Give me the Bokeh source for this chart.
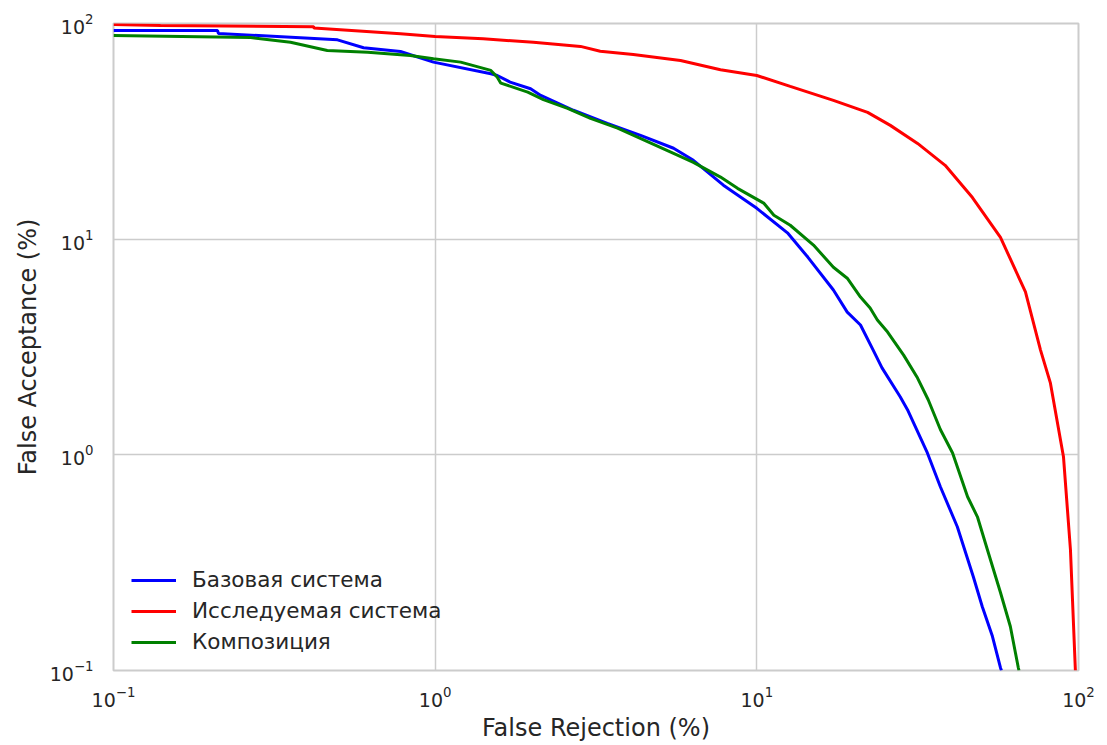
from bokeh.plotting import figure
from bokeh.models import Legend, LegendItem
from bokeh.embed import file_html
from bokeh.resources import INLINE

# DET curves: false rejection (%) vs false acceptance (%)
base_fr = [0.1, 0.2105, 0.212, 0.497, 0.599, 0.780, 0.988, 1.49, 1.56, 1.71, 1.98, 2.13,
           2.69, 3.43, 4.35, 5.51, 6.35, 7.87, 10.0, 12.45, 14.4, 17.3, 19.1, 21.0, 23.0,
           24.5, 27.9, 29.4, 33.9, 37.2, 42.0, 47.1, 50.2, 54.0, 57.2, 57.6]
base_fa = [92.8, 92.8, 89.9, 84.0, 77.2, 74.2, 66.2, 58.5, 57.4, 53.5, 49.8, 46.4,
           39.6, 34.4, 30.3, 26.4, 23.2, 17.8, 13.9, 10.7, 8.26, 5.81, 4.59, 4.00, 3.06,
           2.53, 1.86, 1.62, 1.02, 0.711, 0.464, 0.272, 0.198, 0.144, 0.103, 0.1]

test_fr = [0.1, 0.140, 0.419, 0.420, 0.780, 1.0, 1.41, 2.02, 2.83, 3.26, 4.13, 5.79,
           7.71, 10.0, 12.7, 17.3, 22.1, 26.0, 31.6, 38.5, 46.8, 57.2, 68.4, 76.2, 81.8,
           89.8, 94.4, 97.8]
test_fa = [98.9, 97.9, 96.6, 95.3, 89.6, 87.1, 84.9, 81.9, 78.3, 74.4, 71.9, 67.4,
           61.0, 57.4, 51.1, 44.0, 38.7, 33.7, 27.8, 22.0, 15.6, 10.2, 5.69, 3.06, 2.15,
           0.98, 0.363, 0.1]

comp_fr = [0.1, 0.267, 0.355, 0.462, 0.617, 0.837, 0.988, 1.20, 1.49, 1.56, 1.60, 1.94,
           2.17, 2.58, 3.04, 3.69, 5.51, 6.35, 7.71, 8.71, 10.5, 11.3, 12.7, 15.0, 17.3,
           19.1, 21.0, 22.5, 23.7, 25.5, 28.6, 31.6, 34.1, 37.2, 40.6, 45.2, 48.5, 52.1,
           57.2, 61.4, 65.0, 65.3]
comp_fa = [88.0, 86.1, 81.9, 75.0, 73.6, 71.1, 68.6, 66.2, 60.6, 56.4, 52.9, 48.1,
           44.4, 40.4, 36.3, 32.7, 25.0, 22.7, 19.4, 17.2, 14.7, 12.9, 11.6, 9.39, 7.41,
           6.59, 5.39, 4.80, 4.22, 3.71, 2.90, 2.27, 1.80, 1.31, 1.02, 0.639, 0.516, 0.363,
           0.230, 0.160, 0.103, 0.1]

labels = ["Базовая система", "Исследуемая система", "Композиция"]
colors = ["#0000ff", "#ff0000", "#008000"]

FONT = "DejaVu Sans"
TEXT = "#262626"
GRID = "#cccccc"

p = figure(width=1107, height=745, x_axis_type="log", y_axis_type="log",
           x_range=(0.1, 100), y_range=(0.1, 100),
           output_backend="svg", toolbar_location=None,
           min_border_left=113, min_border_right=29,
           min_border_top=23, min_border_bottom=75)

p.outline_line_color = GRID
p.outline_line_width = 2
p.background_fill_color = "white"
p.border_fill_color = "white"

for g in (p.xgrid, p.ygrid):
    g.grid_line_color = GRID
    g.grid_line_width = 1.5

for ax in (p.xaxis, p.yaxis):
    ax.axis_line_color = None
    ax.major_tick_line_color = None
    ax.minor_tick_line_color = None
    ax.major_label_text_font = FONT
    ax.major_label_text_font_size = "19px"
    ax.major_label_text_color = TEXT
    ax.axis_label_text_font = FONT
    ax.axis_label_text_font_size = "24px"
    ax.axis_label_text_font_style = "normal"
    ax.axis_label_text_color = TEXT

p.xaxis.axis_label = "False Rejection (%)"
p.yaxis.axis_label = "False Acceptance (%)"
p.xaxis.major_label_standoff = 9
p.yaxis.major_label_standoff = 14
p.xaxis.axis_label_standoff = 4
p.yaxis.axis_label_standoff = 5

series = [(base_fr, base_fa), (test_fr, test_fa), (comp_fr, comp_fa)]
items = []
for (xs, ys), lab, col in zip(series, labels, colors):
    r = p.line(xs, ys, line_color=col, line_width=3)
    items.append(LegendItem(label=lab, renderers=[r]))

legend = Legend(items=items, location=(18, 16),
                glyph_width=45, glyph_height=24, label_height=24,
                label_standoff=16, spacing=6, padding=10, margin=0,
                label_text_font=FONT, label_text_font_size="21.5px",
                label_text_color=TEXT,
                border_line_color=None, background_fill_alpha=0)
p.add_layout(legend, "center")

open("out.html", "w").write(file_html(p, INLINE))
